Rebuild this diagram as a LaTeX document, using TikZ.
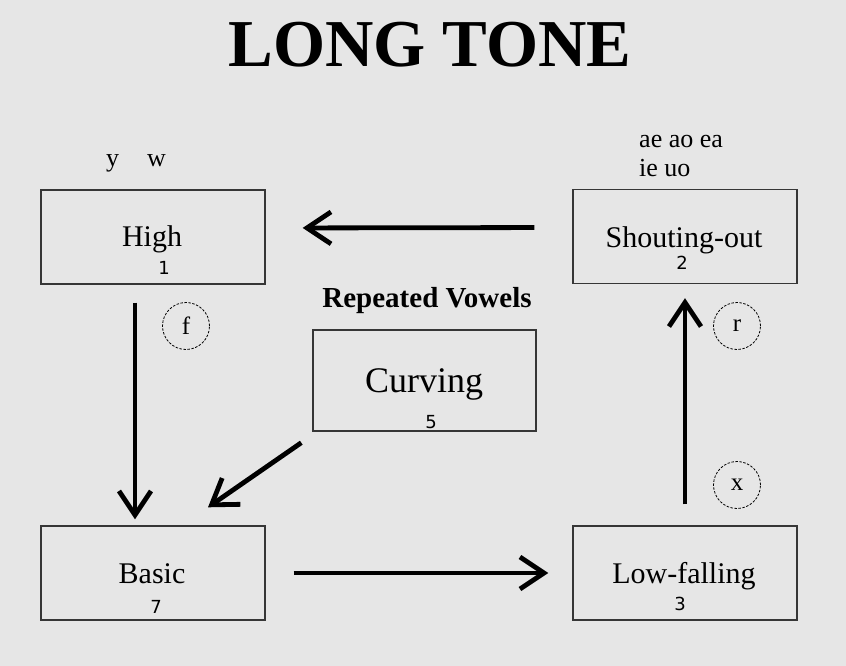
\documentclass[tikz,border=0pt]{standalone}
\usepackage{fontspec}
\setmainfont{Liberation Serif}
\newfontfamily\numfont{DejaVu Sans}
\usetikzlibrary{arrows.meta}
\definecolor{bg}{HTML}{E6E6E6}
\definecolor{frame}{HTML}{363636}
\begin{document}
\begin{tikzpicture}[x=1pt,y=-1pt,
  tbox/.style={draw=frame, line width=1.4pt, minimum width=224pt, minimum height=94pt, inner sep=0pt},
  lbl/.style={anchor=base, inner sep=0pt, font=\fontsize{30}{34}\selectfont},
  num/.style={anchor=base, inner sep=0pt, font=\numfont\fontsize{18}{21}\selectfont},
  small/.style={anchor=base west, inner sep=0pt, font=\fontsize{26}{30}\selectfont},
  ring/.style={circle, draw=black, line width=0.8pt, dash pattern=on 2.5pt off 1.5pt, minimum size=47pt, inner sep=0pt, font=\fontsize{25}{28}\selectfont},
  arr/.style={line width=4.8pt, -{Straight Barb[length=24pt, width=32pt, line width=4.8pt]}}
]
\useasboundingbox[fill=bg] (0,0) rectangle (846,666);

% title
\node[anchor=base, inner sep=0pt, font=\bfseries\fontsize{67}{76}\selectfont] (title) at (430,67) {LONG TONE};

% boxes
\node[tbox] (high) at (153,237) {};
\node[tbox] (shout) at (685,236.5) {};
\node[tbox, minimum width=223pt, minimum height=101pt] (curv) at (424.5,380.5) {};
\node[tbox] (basic) at (153,573) {};
\node[tbox] (low) at (685,573) {};

% labels
\node[lbl] (highl) at (152,246) {High};
\node[num] (highn) at (164,274) {1};
\node[lbl] (shoutl) at (684,247) {Shouting-out};
\node[num] (shoutn) at (682,269) {2};
\node[anchor=base, inner sep=0pt, font=\fontsize{36}{42}\selectfont] (curvl) at (424,392) {Curving};
\node[num] (curvn) at (431,428) {5};
\node[lbl] (basicl) at (152,583) {Basic};
\node[num] (basicn) at (156,613) {7};
\node[lbl] (lowl) at (684,583) {Low-falling};
\node[num] (lown) at (680,610) {3};

% small texts
\node[small] (yw) at (106,166) {y\hspace{28pt}w};
\node[small] (v1) at (639,148) {ae ao ea};
\node[small] (v2) at (639,176) {ie uo};
\node[anchor=base, inner sep=0pt, font=\bfseries\fontsize{29}{34}\selectfont] (rep) at (427,307) {Repeated Vowels};

% rings
\node[ring] (rf) at (186,326) {f};
\node[ring] (rr) at (737,326) {r};
\node[ring] (rx) at (737,485) {x};

% arrows
\draw[arr, shorten <=18pt, shorten >=6pt] ([xshift=-18pt]high.south) -- ([xshift=-18pt]basic.north);
\draw[arr, shorten <=38pt, shorten >=37pt] ([yshift=9pt]shout.west) -- ([yshift=9pt]high.east);
\draw[arr, shorten <=21pt, shorten >=14pt] (low.north) -- (shout.south);
\draw[arr, shorten <=28pt, shorten >=24pt] (basic.east) -- (low.west);
\draw[arr] ([xshift=-11pt,yshift=-11pt]curv.south west) -- ([xshift=55pt,yshift=18pt]basic.north);
\end{tikzpicture}
\end{document}
